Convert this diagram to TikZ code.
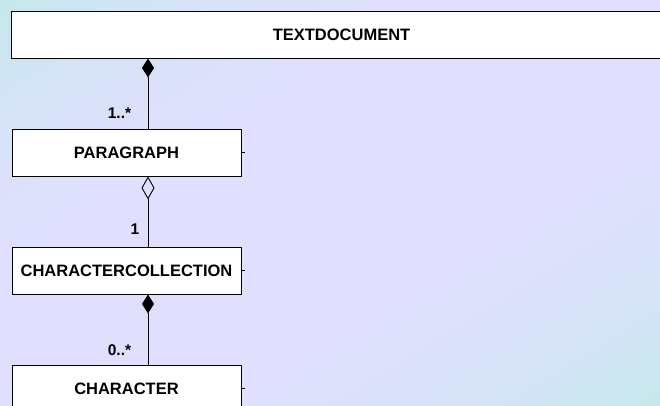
\documentclass[tikz,border=0pt]{standalone}
\usepackage{fontspec}
\setmainfont{Liberation Sans}
\usetikzlibrary{arrows.meta}

\definecolor{cornerbg}{RGB}{197,232,236}
\definecolor{middlebg}{RGB}{224,224,254}

\tikzset{
  classbox/.style={draw=black, fill=white, line width=0.9pt,
    minimum width=229pt, minimum height=47pt, inner sep=0pt,
    font=\fontsize{16.5}{19}\selectfont\bfseries},
  mult/.style={inner sep=0pt, font=\fontsize{15.5}{18}\selectfont\bfseries},
  compose/.style={line width=0.9pt, {Diamond[length=19pt,width=12pt,fill=black]}-},
  aggregate/.style={line width=0.9pt, {Diamond[length=23pt,width=13pt,open]}-}
}

\begin{document}
\begin{tikzpicture}[x=1pt,y=-1pt]

    \clip (0,0) rectangle (660,405);

    % diagonal bands of the background
    \foreach \i in {0,...,59} {
      \pgfmathsetmacro\sa{\i/30}
      \pgfmathsetmacro\sb{(\i+1.2)/30}
      \pgfmathsetmacro\pct{100*sin(90*min(1,(1-abs((\i+0.5)/30-1))/0.75))}
      \fill[middlebg!\pct!cornerbg] (660*\sa-1320,810) -- (660*\sa+1320,-810)
        -- (660*\sb+1320,-810) -- (660*\sb-1320,810) -- cycle;
    }


    \node[classbox, minimum width=661pt] (doc) at (341.5,34.5) {TEXTDOCUMENT};

    \node[classbox] (para) at (126.5,152.5) {PARAGRAPH};

    \node[classbox] (coll) at (126.5,270.5) {CHARACTERCOLLECTION};

    \node[classbox] (char) at (126.5,388.5) {CHARACTER};


    \draw[compose] ([xshift=21.5pt]para.north |- doc.south) -- ([xshift=21.5pt]para.north);

    \node[mult] (mpara) at (119.5,113.5) {1..*};


    \draw[aggregate] ([xshift=21.5pt]coll.north |- para.south) -- ([xshift=21.5pt]coll.north);

    \node[mult] (mcoll) at (135,229.5) {1};


    \draw[compose] ([xshift=21.5pt]char.north |- coll.south) -- ([xshift=21.5pt]char.north);

    \node[mult] (mchar) at (119.5,350.5) {0..*};


    \draw[line width=0.6pt] (para.east) -- ++(4,0);

    \draw[line width=0.6pt] (coll.east) -- ++(4,0);

    \draw[line width=0.6pt] (char.east) -- ++(4,0);

  \end{tikzpicture}
\end{document}
